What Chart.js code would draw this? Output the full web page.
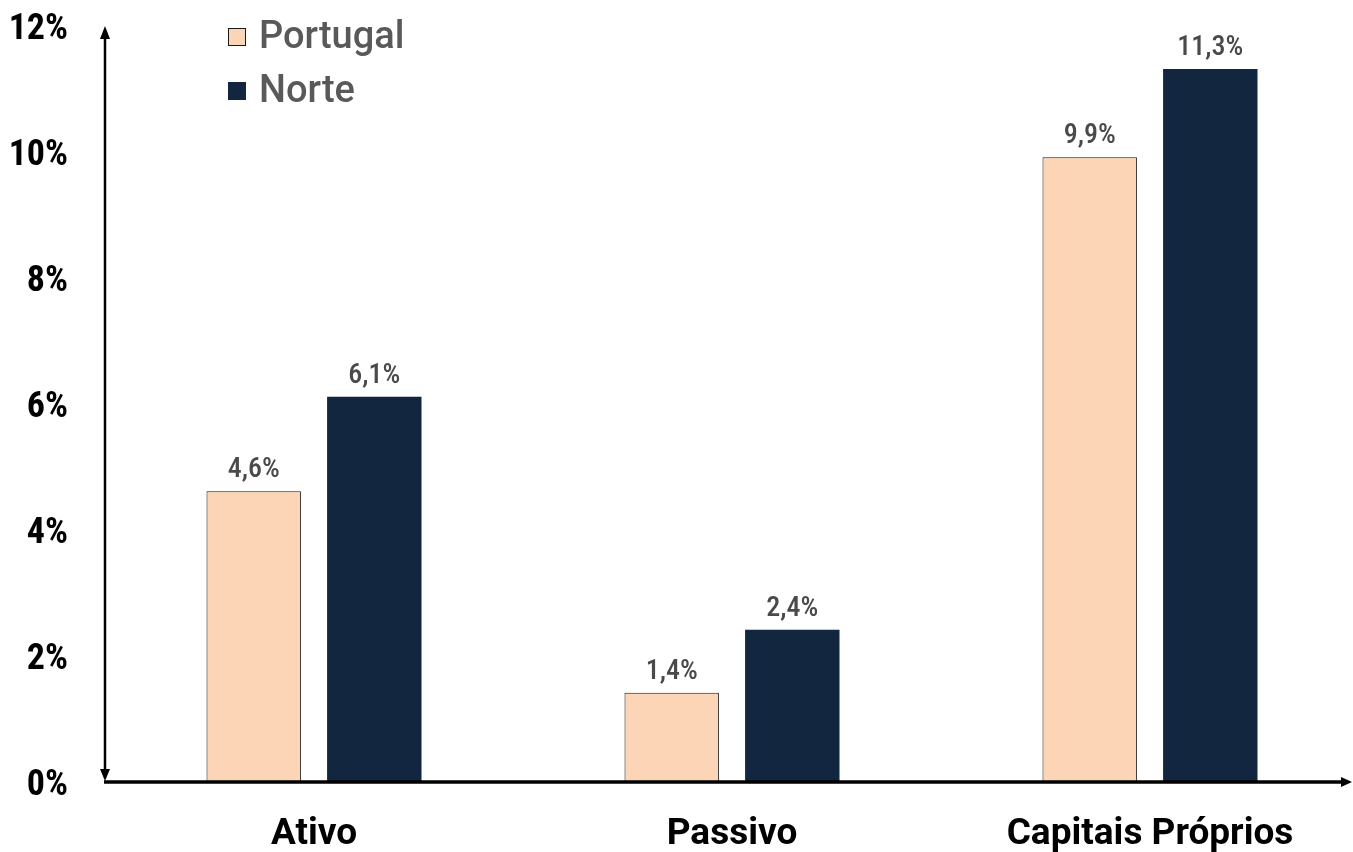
<!DOCTYPE html>
<html>
<head>
<meta charset="utf-8">
<script src="https://cdn.jsdelivr.net/npm/chart.js@4.4.1/dist/chart.umd.min.js"></script>
<style>
  html, body { margin: 0; padding: 0; background: #fff; overflow: hidden; }
  #wrap { width: 1359px; height: 852px; }
</style>
</head>
<body>
<div id="wrap"><canvas id="chart" width="1359" height="852"></canvas></div>
<script>
// dados do gráfico
const categorias = ['Ativo', 'Passivo', 'Capitais Próprios'];
const portugal = [4.6, 1.4, 9.9];
const norte = [6.1, 2.4, 11.3];
const yTicks = [0, 2, 4, 6, 8, 10, 12];

const NARROW = "'Roboto Condensed', 'Liberation Sans Narrow', 'Roboto', sans-serif";
const WIDE = "'Roboto', 'Noto Sans', sans-serif";

// rótulos de valor acima das barras
const valueLabels = {
  id: 'valueLabels',
  afterDatasetsDraw(chart) {
    const ctx = chart.ctx;
    ctx.save();
    ctx.font = '500 28px ' + NARROW;
    ctx.fillStyle = '#4a4a4a';
    ctx.textAlign = 'center';
    ctx.textBaseline = 'bottom';
    chart.data.datasets.forEach((ds, i) => {
      chart.getDatasetMeta(i).data.forEach((bar, j) => {
        const txt = ds.data[j].toFixed(1).replace('.', ',') + '%';
        ctx.fillText(txt, bar.x, bar.y - 7);
      });
    });
    ctx.restore();
  }
};

// eixos com setas
const axisArrows = {
  id: 'axisArrows',
  afterDraw(chart) {
    const ctx = chart.ctx;
    const a = chart.chartArea;
    const x0 = a.left, y0 = a.bottom;
    const xEnd = 1352; // janela visível termina em 1353
    const yTop = a.top + 3;
    ctx.save();
    ctx.strokeStyle = '#000';
    ctx.fillStyle = '#000';
    // eixo y
    ctx.lineWidth = 2.5;
    ctx.beginPath();
    ctx.moveTo(x0, yTop + 6);
    ctx.lineTo(x0, y0 - 6);
    ctx.stroke();
    ctx.beginPath();
    ctx.moveTo(x0, yTop - 2); ctx.lineTo(x0 - 5, yTop + 11); ctx.lineTo(x0 + 5, yTop + 11);
    ctx.fill();
    ctx.beginPath();
    ctx.moveTo(x0, y0); ctx.lineTo(x0 - 5, y0 - 12); ctx.lineTo(x0 + 5, y0 - 12);
    ctx.fill();
    // eixo x
    ctx.lineWidth = 3.5;
    ctx.beginPath();
    ctx.moveTo(x0 - 1, y0 + 1);
    ctx.lineTo(xEnd - 8, y0 + 1);
    ctx.stroke();
    ctx.beginPath();
    ctx.moveTo(xEnd, y0 + 1); ctx.lineTo(xEnd - 11, y0 - 4); ctx.lineTo(xEnd - 11, y0 + 6);
    ctx.fill();
    ctx.restore();
  }
};

// legenda vertical dentro da área do gráfico
const legendBox = {
  id: 'legendBox',
  afterDraw(chart) {
    const ctx = chart.ctx;
    ctx.save();
    ctx.font = '500 38px ' + WIDE;
    ctx.textBaseline = 'middle';
    ctx.textAlign = 'left';
    chart.data.datasets.forEach((ds, i) => {
      const cy = 37 + i * 54;
      ctx.fillStyle = ds.backgroundColor;
      ctx.fillRect(228, cy - 9, 18, 18);
      if (ds.borderWidth) {
        ctx.strokeStyle = ds.borderColor;
        ctx.lineWidth = 1;
        ctx.strokeRect(228.5, cy - 8.5, 17, 17);
      }
      ctx.fillStyle = '#595959';
      ctx.fillText(ds.label, 259, cy + 1);
    });
    ctx.restore();
  }
};

new Chart(document.getElementById('chart').getContext('2d'), {
  type: 'bar',
  data: {
    labels: categorias,
    datasets: [
      {
        label: 'Portugal',
        data: portugal,
        backgroundColor: '#fbd5b5',
        borderColor: '#1a1a1a',
        borderWidth: 1,
        categoryPercentage: 0.577,
        barPercentage: 0.783
      },
      {
        label: 'Norte',
        data: norte,
        backgroundColor: '#13263f',
        borderWidth: 0,
        categoryPercentage: 0.577,
        barPercentage: 0.783
      }
    ]
  },
  options: {
    responsive: false,
    animation: false,
    layout: { padding: { top: 25, left: 0, right: 0, bottom: 0 } },
    plugins: {
      legend: { display: false },
      tooltip: { enabled: false }
    },
    scales: {
      x: {
        grid: { display: false, drawTicks: false },
        border: { display: false },
        ticks: {
          color: '#000',
          padding: 32,
          font: { family: WIDE, size: 37, weight: 'bold' }
        },
        afterFit(s) { s.height = 71; s.paddingLeft = 0; s.paddingRight = 0; }
      },
      y: {
        min: 0,
        max: 12,
        afterBuildTicks(s) { s.ticks = yTicks.map(v => ({ value: v })); },
        grid: { display: false, drawTicks: false },
        border: { display: false },
        ticks: {
          color: '#000',
          padding: 37,
          labelOffset: 5,
          font: { family: NARROW, size: 36, weight: 'bold' },
          callback: v => v + '%'
        },
        afterFit(s) { s.width = 105; s.paddingTop = 0; s.paddingBottom = 0; }
      }
    }
  },
  plugins: [valueLabels, axisArrows, legendBox]
});
</script>
</body>
</html>
